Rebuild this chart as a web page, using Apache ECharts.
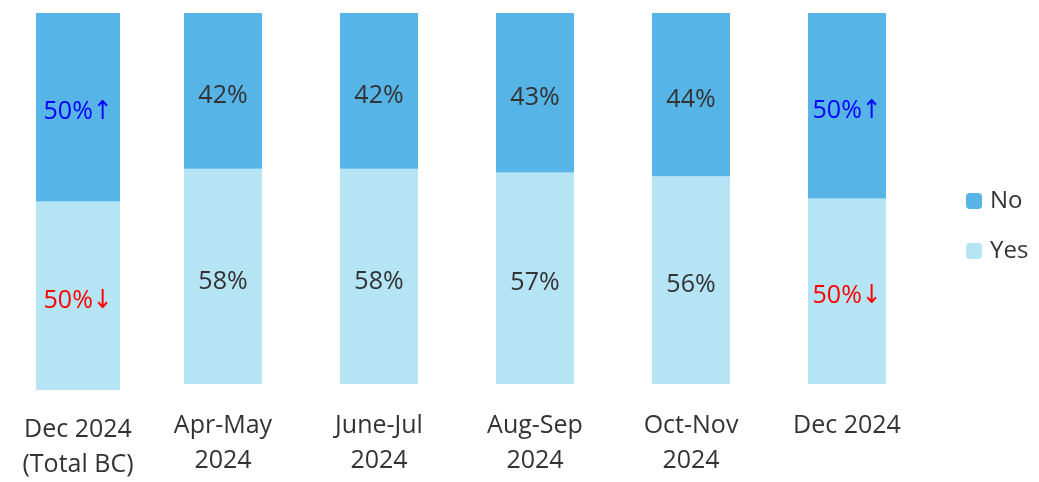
<!DOCTYPE html>
<html>
<head>
<meta charset="utf-8">
<script src="https://cdn.jsdelivr.net/npm/echarts@6/dist/echarts.min.js"></script>
<style>
  html, body { margin: 0; padding: 0; background: #fff; }
  #chart { width: 1039px; height: 482px; }
</style>
</head>
<body>
<div id="chart"></div>
<script>
// first bar (total) is drawn on its own grid, the periods on a second one
const totalCategory = ['Dec 2024\n(Total BC)']
const periodCategories = ['Apr-May\n2024', 'June-Jul\n2024', 'Aug-Sep\n2024', 'Oct-Nov\n2024', 'Dec 2024']

const totalYes = [50]
const totalNo = [50]
const periodYes = [58, 58, 57, 56, 50]
const periodNo = [42, 42, 43, 44, 50]

// arrow markers shown next to some labels
const totalYesMark = ['↓']
const totalNoMark = ['↑']
const periodYesMark = ['', '', '', '', '↓']
const periodNoMark = ['', '', '', '', '↑']

const noColor = '#56B4E6'
const yesColor = '#B5E4F5'
const fontFamily = '"Open Sans", "Noto Sans", sans-serif'

const toData = (values, marks, markColor) => values.map((v, i) => ({
    value: v,
    label: marks[i] ? { color: markColor, rich: { arrow: { color: markColor } } } : undefined,
    mark: marks[i]
}))

const barLabel = {
    show: true,
    position: 'inside',
    offset: [0, 5],
    fontSize: 25,
    fontFamily: fontFamily,
    color: '#333333',
    formatter: (p) => p.value + '%' + (p.data.mark ? '{arrow|' + p.data.mark + '}' : ''),
    rich: {
        arrow: { fontSize: 26, fontFamily: '"DejaVu Sans Condensed", "DejaVu Sans", sans-serif', fontWeight: 'lighter' }
    }
}

const axisLabel = (margin) => ({
    fontSize: 25,
    lineHeight: 35,
    margin: margin,
    color: '#333333',
    fontFamily: fontFamily
})

const yAxisCommon = {
    type: 'value',
    min: 0,
    max: 100,
    show: false
}

const chart = echarts.init(document.getElementById('chart'))
chart.setOption({
    animation: false,
    legend: {
        orient: 'vertical',
        left: 966,
        top: 189,
        padding: 0,
        itemWidth: 16,
        itemHeight: 16,
        itemGap: 26,
        data: ['No', 'Yes'],
        textStyle: { fontSize: 24, lineHeight: 24, color: '#333333', fontFamily: fontFamily, padding: [0, 0, 0, 3] }
    },
    grid: [
        { left: 0, top: 13, width: 156, height: 378 },
        { left: 145, top: 13, width: 780, height: 371 }
    ],
    xAxis: [
        {
            type: 'category', gridIndex: 0, data: totalCategory,
            axisLine: { show: false }, axisTick: { show: false }, axisLabel: axisLabel(22)
        },
        {
            type: 'category', gridIndex: 1, data: periodCategories,
            axisLine: { show: false }, axisTick: { show: false }, axisLabel: axisLabel(24)
        }
    ],
    yAxis: [
        Object.assign({ gridIndex: 0 }, yAxisCommon),
        Object.assign({ gridIndex: 1 }, yAxisCommon)
    ],
    series: [
        {
            name: 'Yes', type: 'bar', stack: 'total', xAxisIndex: 0, yAxisIndex: 0,
            barWidth: 84, itemStyle: { color: yesColor }, label: barLabel,
            data: toData(totalYes, totalYesMark, '#FF0000')
        },
        {
            name: 'No', type: 'bar', stack: 'total', xAxisIndex: 0, yAxisIndex: 0,
            barWidth: 84, itemStyle: { color: noColor }, label: barLabel,
            data: toData(totalNo, totalNoMark, '#0000FF')
        },
        {
            name: 'Yes', type: 'bar', stack: 'period', xAxisIndex: 1, yAxisIndex: 1,
            barWidth: 78, itemStyle: { color: yesColor }, label: barLabel,
            data: toData(periodYes, periodYesMark, '#FF0000')
        },
        {
            name: 'No', type: 'bar', stack: 'period', xAxisIndex: 1, yAxisIndex: 1,
            barWidth: 78, itemStyle: { color: noColor }, label: barLabel,
            data: toData(periodNo, periodNoMark, '#0000FF')
        }
    ]
})
</script>
</body>
</html>
